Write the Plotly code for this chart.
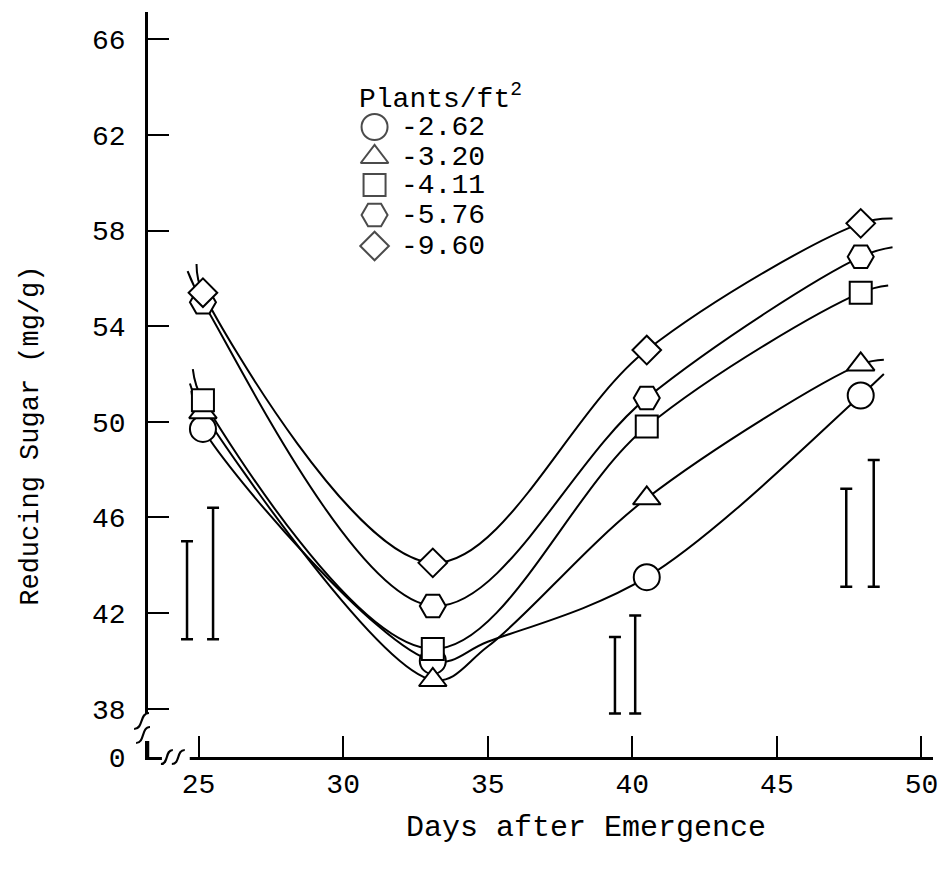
import plotly.graph_objects as go

# ---------------- data ----------------
marker_days = [25.15, 33.1, 40.5, 47.9]
series_names = ["-2.62", "-3.20", "-4.11", "-5.76", "-9.60"]
symbols = ["circle", "triangle-up", "square", "hexagon2", "diamond"]
marker_sizes = [26, 24, 22, 26, 22]

sugar_262 = [49.7, 40.0, 43.5, 51.1]
sugar_320 = [50.4, 39.2, 46.8, 52.4]
sugar_411 = [50.9, 40.5, 49.8, 55.4]
sugar_576 = [55.0, 42.3, 51.0, 56.9]
sugar_960 = [55.4, 44.1, 53.0, 58.3]

# fitted curves (start tail, points along the drawn line, end tail)
curve_days_262 = [24.75, 25.15, 33.1, 35.0, 40.5, 47.9, 48.7]
curve_262 = [51.3, 49.7, 40.0, 40.8, 43.5, 51.1, 52.0]
curve_days_320 = [24.7, 25.15, 33.1, 35.0, 40.5, 47.9, 48.7]
curve_320 = [51.6, 50.4, 39.2, 40.6, 46.8, 52.4, 52.6]
curve_days_411 = [24.8, 25.15, 33.1, 40.5, 47.9, 48.85]
curve_411 = [52.2, 50.9, 40.5, 49.8, 55.4, 55.7]
curve_days_576 = [24.62, 25.15, 33.1, 40.5, 47.9, 49.0]
curve_576 = [56.3, 55.0, 42.3, 51.0, 56.9, 57.3]
curve_days_960 = [24.93, 25.15, 33.1, 40.5, 47.9, 49.0]
curve_960 = [56.6, 55.4, 44.1, 53.0, 58.3, 58.5]

# LSD-type bars
bar_days = [24.6, 25.5, 39.4, 40.1, 47.4, 48.35]
bar_low = [40.9, 40.9, 37.8, 37.8, 43.1, 43.1]
bar_high = [45.0, 46.4, 41.0, 41.9, 47.2, 48.4]

x_ticks = [25, 30, 35, 40, 45, 50]
x_tick_labels = ["25", "30", "35", "40", "45", "50"]
y_ticks = [38, 42, 46, 50, 54, 58, 62, 66]
y_tick_labels = ["38", "42", "46", "50", "54", "58", "62", "66"]
y_break_label = "0"

legend_title = "Plants/ft<sup>2</sup>"
x_title = "Days after Emergence"
y_title = "Reducing Sugar (mg/g)"

# ---------------- layout constants ----------------
W, H = 946, 871
ML, MR, MT, MB = 148, 8, 12, 114
X_RANGE = [23.25, 50.4]
Y_RANGE = [35.98, 67.14]
FONT = "Liberation Mono"
INK = "black"

pw, ph = W - ML - MR, H - MT - MB


def px(xp):
    return (xp - ML) / pw


def py(yp):
    return (H - MB - yp) / ph


marker_series = [sugar_262, sugar_320, sugar_411, sugar_576, sugar_960]
curves = [(curve_days_262, curve_262), (curve_days_320, curve_320), (curve_days_411, curve_411),
          (curve_days_576, curve_576), (curve_days_960, curve_960)]

fig = go.Figure()

for (cx, cy) in curves:
    fig.add_trace(go.Scatter(x=cx, y=cy, mode="lines",
                             line=dict(color=INK, width=2, shape="spline", smoothing=1.0),
                             showlegend=False, hoverinfo="skip"))

for vals, sym, sz in zip(marker_series, symbols, marker_sizes):
    fig.add_trace(go.Scatter(x=marker_days, y=vals, mode="markers",
                             marker=dict(symbol=sym, size=sz, color="white",
                                         line=dict(color=INK, width=2)),
                             showlegend=False))

fig.add_trace(go.Scatter(
    x=bar_days, y=bar_low, mode="markers", marker=dict(size=1, color="rgba(0,0,0,0)"),
    error_y=dict(type="data", symmetric=False,
                 array=[h - l for h, l in zip(bar_high, bar_low)],
                 arrayminus=[0] * len(bar_low), color=INK, thickness=2.5, width=6),
    showlegend=False, hoverinfo="skip"))

# legend drawn on an auxiliary 0..1 axis
leg_y_px = [127, 157, 185, 215, 246]
leg_sym_x = px(376)
fig.add_trace(go.Scatter(
    x=[leg_sym_x] * 5, y=[py(v) for v in leg_y_px], mode="markers",
    marker=dict(symbol=symbols, size=marker_sizes, color="white", line=dict(color=INK, width=2)),
    xaxis="x2", yaxis="y2", showlegend=False, hoverinfo="skip"))

annotations = []
for name, yp in zip(series_names, leg_y_px):
    annotations.append(dict(x=px(401), y=py(yp), xref="paper", yref="paper", text=name,
                            showarrow=False, xanchor="left", yanchor="middle",
                            font=dict(family=FONT, size=28, color=INK)))
annotations.append(dict(x=px(358), y=py(97), xref="paper", yref="paper", text=legend_title,
                        showarrow=False, xanchor="left", yanchor="middle",
                        font=dict(family=FONT, size=28, color=INK)))
annotations.append(dict(x=px(589), y=py(828), xref="paper", yref="paper", text=x_title,
                        showarrow=False, xanchor="center", yanchor="middle",
                        font=dict(family=FONT, size=30, color=INK)))
annotations.append(dict(x=px(30), y=py(436), xref="paper", yref="paper", text=y_title,
                        showarrow=False, xanchor="center", yanchor="middle", textangle=-90,
                        font=dict(family=FONT, size=27, color=INK)))

# axis breaks (decoration)
shapes = [
    dict(type="rect", xref="paper", yref="paper", x0=px(138), x1=px(160), y0=py(741), y1=py(714),
         fillcolor="white", line=dict(width=0), layer="above"),
    dict(type="rect", xref="paper", yref="paper", x0=px(162), x1=px(190), y0=py(762), y1=py(752),
         fillcolor="white", line=dict(width=0), layer="above"),
]


def wiggle(x0, y0, x1, y1):
    xm = (x0 + x1) / 2
    path = (f"M {px(x0)} {py(y0)} C {px(xm + 2)} {py(y0)}, {px(xm - 2)} {py(y1)}, {px(x1)} {py(y1)}")
    return dict(type="path", xref="paper", yref="paper", path=path,
                line=dict(color=INK, width=2.2), layer="above")


shapes += [
    wiggle(134, 729, 149, 713),
    wiggle(136, 743, 150, 727),
    dict(type="line", xref="paper", yref="paper", x0=px(148), x1=px(148), y0=py(741), y1=py(757),
         line=dict(color=INK, width=2.5), layer="above"),
    wiggle(161, 764, 173, 750),
    wiggle(172, 764, 185, 750),
]

fig.update_layout(
    width=W, height=H, margin=dict(l=ML, r=MR, t=MT, b=MB, pad=0),
    paper_bgcolor="white", plot_bgcolor="white",
    font=dict(family=FONT, size=28, color=INK),
    showlegend=False,
    annotations=annotations, shapes=shapes,
    xaxis=dict(range=X_RANGE, tickvals=x_ticks, ticktext=x_tick_labels, ticks="inside",
               ticklen=21, tickwidth=2, tickcolor=INK, showline=True, linecolor=INK, linewidth=2.5,
               showgrid=False, zeroline=False, tickfont=dict(family=FONT, size=28, color=INK),
               ticklabelstandoff=0),
    yaxis=dict(range=Y_RANGE, tickvals=[Y_RANGE[0]] + y_ticks, ticktext=[y_break_label] + y_tick_labels,
               ticks="inside", ticklen=21, tickwidth=2, tickcolor=INK, showline=True, linecolor=INK,
               linewidth=2.5, showgrid=False, zeroline=False,
               tickfont=dict(family=FONT, size=28, color=INK), ticklabelstandoff=14),
    xaxis2=dict(range=[0, 1], overlaying="x", visible=False, fixedrange=True),
    yaxis2=dict(range=[0, 1], overlaying="y", visible=False, fixedrange=True),
)

fig.write_html("out.html")
